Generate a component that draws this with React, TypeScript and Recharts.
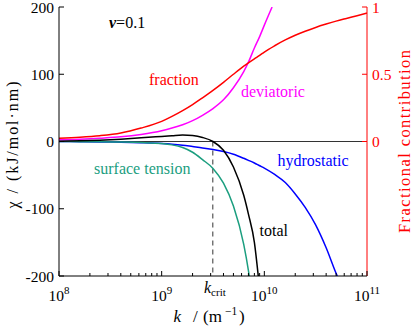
import React from "react";
import { ComposedChart, Line, XAxis, YAxis, ReferenceLine } from "recharts";

// wavenumber grid k (m^-1), shared by all curves
const kGrid = [
  1e8, 1.6e8, 2.5e8, 4e8, 6.3e8, 1e9, 1.26e9, 1.6e9, 2e9, 2.5e9, 3.16e9, 4e9, 5e9, 6.3e9, 7e9, 7.13e9,
  8e9, 8.73e9, 9e9, 1e10, 1.19e10, 1.26e10, 1.6e10, 2e10, 2.5e10, 3.16e10, 4e10, 5e10, 5.13e10, 6.3e10, 8e10, 1e11,
];
// fractional contribution (right axis)
const fraction = [
  0.025, 0.032, 0.043, 0.063, 0.1, 0.15, 0.187, 0.23, 0.275, 0.325, 0.38, 0.44, 0.5, 0.56, 0.585, null,
  0.615, null, 0.64, 0.665, null, 0.712, 0.755, 0.79, 0.82, 0.848, 0.873, 0.895, null, 0.915, 0.935, 0.955,
];
// chi in kJ/mol.nm (left axis)
const deviatoric = [
  2.5, 3.5, 5, 7, 10.5, 16, 20, 25, 31, 39, 49, 62, 80, 104, 118, null,
  139, null, 156, 173, 200, null, null, null, null, null, null, null, null, null, null, null,
];
const total = [
  0.3, 1, 2, 3.5, 5.5, 7.5, 8.5, 9.5, 8.8, 6, 0, -13, -38, -80, -108, null,
  -150, -200, null, null, null, null, null, null, null, null, null, null, null, null, null, null,
];
const surfaceTension = [
  0, -0.2, -0.4, -0.8, -1.5, -3, -5, -9, -16, -27, -40, -62, -96, -153, -192, -200,
  null, null, null, null, null, null, null, null, null, null, null, null, null, null, null, null,
];
const hydrostatic = [
  0, -0.3, -0.6, -1, -1.8, -3, -4, -5.5, -7.5, -9.5, -12, -15, -19, -25, -28, null,
  -32, null, -36, -39.5, null, -49, -61, -78, -98, -124, -158, -196, -200, null, null, null,
];

const kCrit = 3.15e9;
const majorTicks = [1e8, 1e9, 1e10, 1e11];
const minorTicks = [8, 9, 10].flatMap((e) => [2, 3, 4, 5, 6, 7, 8, 9].map((m) => m * 10 ** e));
const xTicks = [...majorTicks, ...minorTicks].sort((a, b) => a - b);
const leftTicks = [-200, -100, 0, 100, 200];
const rightTicks = [0, 0.5, 1];

const data = kGrid.map((k, i) => ({
  k,
  fraction: fraction[i],
  deviatoric: deviatoric[i],
  total: total[i],
  surface: surfaceTension[i],
  hydro: hydrostatic[i],
}));

const FONT = "Liberation Serif, DejaVu Serif, serif";
const serif = { fontFamily: FONT };

function XTick(props: any) {
  const { x, y, payload, top } = props;
  const lg = Math.log10(payload.value);
  const exp = Math.round(lg);
  const major = Math.abs(lg - exp) < 1e-6;
  const len = major ? 5 : 3;
  return (
    <g>
      <line x1={x} x2={x} y1={y} y2={top ? y + len : y - len} stroke="#000" strokeWidth={1} />
      {!top && major && (
        <text x={x} y={y + 25} textAnchor="middle" fontSize={15.5} style={serif} fill="#000">
          10<tspan dy={-7} fontSize={11}>{exp}</tspan>
        </text>
      )}
    </g>
  );
}

export default function App() {
  return (
    <div style={{ position: "absolute", left: 0, top: 0, width: 413, height: 329, background: "#fff", ...serif }}>
      <ComposedChart width={413} height={329} data={data} margin={{ top: 7, right: 0, bottom: 0, left: 0 }} style={serif}>
        <XAxis xAxisId="b" dataKey="k" type="number" scale="log" domain={[1e8, 1e11]} ticks={xTicks} interval={0}
          height={53} tickSize={0} tickMargin={0} tickLine={false} axisLine={{ stroke: "#000" }} allowDataOverflow
          tick={(p: any) => <XTick {...p} top={false} />} />
        <XAxis xAxisId="t" orientation="top" dataKey="k" type="number" scale="log" domain={[1e8, 1e11]} ticks={xTicks}
          interval={0} height={0} tickSize={0} tickMargin={0} tickLine={false} axisLine={{ stroke: "#000" }} allowDataOverflow
          tick={(p: any) => <XTick {...p} top={true} />} />
        <YAxis yAxisId="l" domain={[-200, 200]} ticks={leftTicks} interval={0} width={59} tickSize={-5} tickMargin={10}
          axisLine={{ stroke: "#000" }} tickLine={{ stroke: "#000" }} allowDataOverflow
          tick={{ fill: "#000", fontSize: 15.5, style: serif }} />
        <YAxis yAxisId="r" orientation="right" domain={[-1, 1]} ticks={rightTicks} interval={0} width={46} tickSize={-5}
          tickMargin={10} axisLine={{ stroke: "#ff0000" }} tickLine={{ stroke: "#ff0000" }} allowDataOverflow
          tick={{ fill: "#ff0000", fontSize: 15.5, style: serif, textAnchor: "start" }} />
        <ReferenceLine xAxisId="b" yAxisId="l" y={0} stroke="#333" strokeWidth={1} />
        <ReferenceLine xAxisId="b" yAxisId="l" segment={[{ x: kCrit, y: 0 }, { x: kCrit, y: -200 }]}
          stroke="#333" strokeDasharray="5 4" strokeWidth={1} />
        <Line xAxisId="b" yAxisId="l" dataKey="hydro" stroke="#0000ff" strokeWidth={1.5} dot={false} type="monotone" connectNulls isAnimationActive={false} />
        <Line xAxisId="b" yAxisId="l" dataKey="surface" stroke="#1b9e7f" strokeWidth={1.5} dot={false} type="monotone" connectNulls isAnimationActive={false} />
        <Line xAxisId="b" yAxisId="l" dataKey="deviatoric" stroke="#ff00ff" strokeWidth={1.5} dot={false} type="monotone" connectNulls isAnimationActive={false} />
        <Line xAxisId="b" yAxisId="l" dataKey="total" stroke="#000" strokeWidth={1.5} dot={false} type="monotone" connectNulls isAnimationActive={false} />
        <Line xAxisId="b" yAxisId="r" dataKey="fraction" stroke="#ff0000" strokeWidth={1.5} dot={false} type="monotone" connectNulls isAnimationActive={false} />
      </ComposedChart>
      <svg width={413} height={329} style={{ position: "absolute", left: 0, top: 0, pointerEvents: "none", ...serif }}>
        <text x={109} y={28} fontSize={16} fill="#000" style={serif}>
          <tspan fontWeight="bold" fontStyle="italic">v</tspan>=0.1
        </text>
        <text x={149} y={84.5} fontSize={16} fill="#ff0000" style={serif}>fraction</text>
        <text x={241} y={96.5} fontSize={16} fill="#ff00ff" style={serif}>deviatoric</text>
        <text x={94} y={174} fontSize={16} fill="#1b9e7f" style={serif}>surface tension</text>
        <text x={277.5} y={165.5} fontSize={16} fill="#0000ff" style={serif}>hydrostatic</text>
        <text x={259.5} y={236} fontSize={16} fill="#000" style={serif}>total</text>
        <text x={204} y={293} fontSize={16} fill="#000" style={serif}>
          <tspan fontStyle="italic">k</tspan><tspan dy={3} fontSize={11}>crit</tspan>
        </text>
        <text y={321.5} fontSize={17} fill="#000" style={serif}>
          <tspan x={173.5} fontStyle="italic">k</tspan>
          <tspan x={193}>/</tspan>
          <tspan x={203}>(m</tspan>
          <tspan x={225} dy={-7} fontSize={11.5}>−1</tspan>
          <tspan x={239} dy={7}>)</tspan>
        </text>
        <text transform="translate(18,145) rotate(-90)" fontSize={16} fill="#000" textAnchor="middle" textLength={127} lengthAdjust="spacing" style={serif}>
          χ / (kJ/mol·nm)
        </text>
        <text transform="translate(410,141.5) rotate(-90)" fontSize={16.5} fill="#ff0000" textAnchor="middle" textLength={183} lengthAdjust="spacing" style={serif}>
          Fractional contribution
        </text>
      </svg>
    </div>
  );
}
